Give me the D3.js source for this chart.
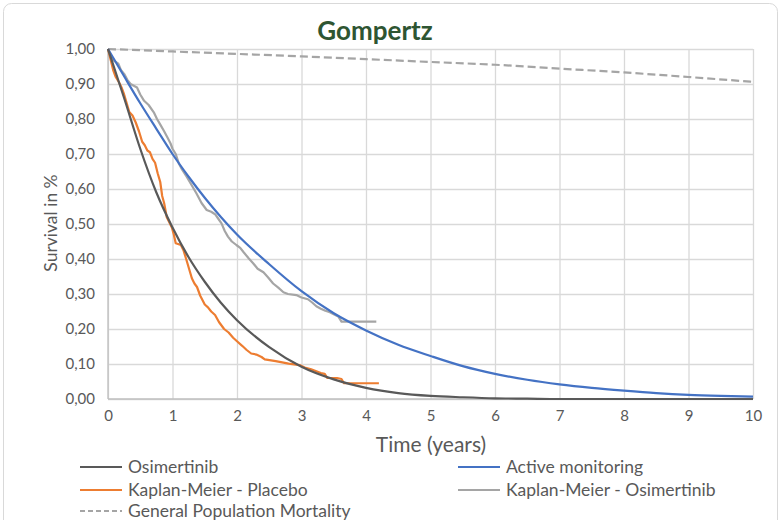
<!DOCTYPE html>
<html>
<head>
<meta charset="utf-8">
<script src="https://cdn.jsdelivr.net/npm/d3@7/dist/d3.min.js"></script>
<style>
  html, body { margin: 0; padding: 0; background: #fff; overflow: hidden; }
  svg { display: block; font-family: Lato, "Open Sans", sans-serif; }
</style>
</head>
<body>
<svg id="chart" width="781" height="520"></svg>
<script>
// Survival data (time in years, survival as a fraction)
const chartTitle = "Gompertz";
const xTickValues = [0, 1, 2, 3, 4, 5, 6, 7, 8, 9, 10];
const yTickValues = [0, 0.1, 0.2, 0.3, 0.4, 0.5, 0.6, 0.7, 0.8, 0.9, 1.0];
const yTickLabels = ["0,00", "0,10", "0,20", "0,30", "0,40", "0,50", "0,60", "0,70", "0,80", "0,90", "1,00"];

// Gompertz model curves
const modelTimes = [0, 0.25, 0.5, 0.75, 1, 1.25, 1.5, 1.75, 2, 2.5, 3, 3.5, 4, 4.5, 5, 5.5, 6, 6.5, 7, 7.5, 8, 8.5, 9, 9.5, 10];
const osimertinib = [1.0, 0.86, 0.715, 0.59, 0.49, 0.405, 0.335, 0.275, 0.225, 0.148, 0.092, 0.056, 0.032, 0.017, 0.009, 0.005, 0.002, 0.001, 0, 0, 0, 0, 0, 0, 0];
const activeMonitoring = [1.0, 0.922, 0.845, 0.772, 0.70, 0.635, 0.575, 0.52, 0.47, 0.385, 0.308, 0.245, 0.196, 0.155, 0.123, 0.094, 0.072, 0.055, 0.042, 0.032, 0.024, 0.017, 0.012, 0.009, 0.007];

// General population mortality
const popTimes = [0, 1, 2, 3, 4, 5, 6, 7, 8, 9, 10];
const populationMortality = [1.0, 0.993, 0.986, 0.979, 0.971, 0.963, 0.955, 0.944, 0.933, 0.92, 0.906];

// Kaplan-Meier - Placebo
const kmPlaceboTimes = [0, 0.04, 0.08, 0.12, 0.17, 0.21, 0.25, 0.29, 0.33, 0.38, 0.43, 0.48, 0.53, 0.57, 0.61, 0.65, 0.69, 0.73, 0.77, 0.81, 0.84, 0.87, 0.91, 0.95, 0.99, 1.02, 1.05, 1.13, 1.17, 1.22, 1.26, 1.30, 1.34, 1.38, 1.43, 1.50, 1.55, 1.60, 1.66, 1.72, 1.80, 1.87, 1.94, 2.0, 2.08, 2.15, 2.22, 2.30, 2.38, 2.43, 2.6, 2.8, 2.97, 3.05, 3.15, 3.22, 3.3, 3.36, 3.4, 3.55, 3.62, 3.66, 4.2];
const kmPlacebo = [1.0, 0.97, 0.94, 0.92, 0.905, 0.89, 0.87, 0.845, 0.82, 0.81, 0.79, 0.765, 0.735, 0.725, 0.71, 0.705, 0.686, 0.675, 0.645, 0.62, 0.58, 0.56, 0.52, 0.505, 0.49, 0.47, 0.445, 0.44, 0.425, 0.395, 0.37, 0.345, 0.33, 0.32, 0.295, 0.27, 0.262, 0.25, 0.24, 0.22, 0.2, 0.19, 0.175, 0.165, 0.152, 0.14, 0.13, 0.127, 0.12, 0.113, 0.108, 0.101, 0.097, 0.09, 0.085, 0.08, 0.074, 0.072, 0.06, 0.06, 0.057, 0.045, 0.045];

// Kaplan-Meier - Osimertinib
const kmOsiTimes = [0, 0.05, 0.09, 0.16, 0.2, 0.25, 0.3, 0.35, 0.4, 0.45, 0.5, 0.56, 0.63, 0.71, 0.76, 0.82, 0.87, 0.92, 0.97, 1.0, 1.05, 1.1, 1.15, 1.22, 1.3, 1.37, 1.45, 1.53, 1.6, 1.66, 1.71, 1.76, 1.81, 1.86, 1.92, 1.99, 2.05, 2.10, 2.18, 2.25, 2.32, 2.41, 2.48, 2.56, 2.64, 2.72, 2.79, 2.92, 3.0, 3.10, 3.17, 3.23, 3.3, 3.37, 3.44, 3.5, 3.57, 3.62, 4.16];
const kmOsimertinib = [1.0, 0.975, 0.967, 0.958, 0.94, 0.929, 0.912, 0.9, 0.895, 0.89, 0.87, 0.852, 0.84, 0.819, 0.8, 0.781, 0.765, 0.748, 0.73, 0.715, 0.7, 0.672, 0.655, 0.635, 0.61, 0.588, 0.56, 0.54, 0.535, 0.528, 0.515, 0.502, 0.48, 0.464, 0.45, 0.44, 0.432, 0.42, 0.402, 0.388, 0.372, 0.362, 0.348, 0.33, 0.318, 0.305, 0.3, 0.297, 0.29, 0.285, 0.275, 0.265, 0.258, 0.252, 0.248, 0.242, 0.236, 0.221, 0.221];

const seriesNames = ["Osimertinib", "Active monitoring", "Kaplan-Meier - Placebo", "Kaplan-Meier - Osimertinib", "General Population Mortality"];
const seriesColors = ["#595959", "#4472C4", "#ED7D31", "#A5A5A5", "#A5A5A5"];

const svg = d3.select("#chart");
const W = 781, H = 520;
const plot = { left: 108, right: 753, top: 49, bottom: 399 };
const FONT = "Lato, 'Open Sans', sans-serif";

// Outer chart frame (its lower edge runs past the bottom of the view)
svg.append("rect")
  .attr("x", 3.5).attr("y", 3.5)
  .attr("width", W - 7).attr("height", H + 20)
  .attr("rx", 8).attr("ry", 8)
  .attr("fill", "#fff").attr("stroke", "#D9D9D9").attr("stroke-width", 1);

const x = d3.scaleLinear().domain([0, 10]).range([plot.left, plot.right]);
const y = d3.scaleLinear().domain([0, 1]).range([plot.bottom, plot.top]);

// Gridlines
svg.append("g")
  .attr("transform", `translate(0,${plot.bottom})`)
  .call(d3.axisBottom(x).tickValues(xTickValues).tickSize(-(plot.bottom - plot.top)).tickFormat(""))
  .call(g => g.select(".domain").remove())
  .call(g => g.selectAll("line").attr("stroke", "#D9D9D9").attr("stroke-width", 1.3));
svg.append("g")
  .attr("transform", `translate(${plot.left},0)`)
  .call(d3.axisLeft(y).tickValues(yTickValues).tickSize(-(plot.right - plot.left)).tickFormat(""))
  .call(g => g.select(".domain").remove())
  .call(g => g.selectAll("line").attr("stroke", "#D9D9D9").attr("stroke-width", 1.3));

// Axis lines
svg.append("line")
  .attr("x1", plot.left).attr("x2", plot.left)
  .attr("y1", plot.top).attr("y2", plot.bottom)
  .attr("stroke", "#BFBFBF").attr("stroke-width", 1.3);
svg.append("line")
  .attr("x1", plot.left).attr("x2", plot.right)
  .attr("y1", plot.bottom).attr("y2", plot.bottom)
  .attr("stroke", "#BFBFBF").attr("stroke-width", 1.3);

// Tick labels
svg.append("g")
  .attr("transform", `translate(${plot.left},0)`)
  .call(d3.axisLeft(y).tickValues(yTickValues).tickSize(0).tickPadding(13)
    .tickFormat((d, i) => yTickLabels[i]))
  .call(g => g.select(".domain").remove())
  .call(g => g.selectAll("text").attr("fill", "#595959").style("font-size", "15px")
    .style("font-family", FONT));
svg.append("g")
  .attr("transform", `translate(0,${plot.bottom})`)
  .call(d3.axisBottom(x).tickValues(xTickValues).tickSize(0).tickPadding(11)
    .tickFormat(d3.format("d")))
  .call(g => g.select(".domain").remove())
  .call(g => g.selectAll("text").attr("fill", "#595959").style("font-size", "15px")
    .style("font-family", FONT));

// Titles
svg.append("text")
  .attr("x", 375).attr("y", 40)
  .attr("text-anchor", "middle")
  .attr("fill", "#2E5532")
  .style("font-size", "26px").style("font-weight", "bold")
  .text(chartTitle);
svg.append("text")
  .attr("x", 431).attr("y", 452)
  .attr("text-anchor", "middle")
  .attr("fill", "#595959")
  .style("font-size", "21px")
  .text("Time (years)");
svg.append("text")
  .attr("transform", `translate(57,${(plot.top + plot.bottom) / 2 - 1}) rotate(-90)`)
  .attr("text-anchor", "middle")
  .attr("fill", "#595959")
  .style("font-size", "17.5px")
  .text("Survival in %");

// Series lines
const smooth = d3.line().x(d => x(d[0])).y(d => y(d[1])).curve(d3.curveMonotoneX);
const straight = d3.line().x(d => x(d[0])).y(d => y(d[1]));
const zip = (ts, vs) => ts.map((t, i) => [t, vs[i]]);

const seriesDefs = [
  { data: zip(popTimes, populationMortality), gen: smooth, color: seriesColors[4], dash: "8,4" },
  { data: zip(kmOsiTimes, kmOsimertinib), gen: straight, color: seriesColors[3], dash: null },
  { data: zip(kmPlaceboTimes, kmPlacebo), gen: straight, color: seriesColors[2], dash: null },
  { data: zip(modelTimes, activeMonitoring), gen: smooth, color: seriesColors[1], dash: null },
  { data: zip(modelTimes, osimertinib), gen: smooth, color: seriesColors[0], dash: null }
];
seriesDefs.forEach(s => {
  svg.append("path")
    .datum(s.data)
    .attr("d", s.gen)
    .attr("fill", "none")
    .attr("stroke", s.color)
    .attr("stroke-width", 2.2)
    .attr("stroke-linejoin", "round")
    .attr("stroke-dasharray", s.dash);
});

// Legend
const legendPos = [[80, 467], [458, 467], [80, 490], [458, 490], [80, 511]];
const legend = svg.append("g");
seriesNames.forEach((name, i) => {
  const [lx, ly] = legendPos[i];
  legend.append("line")
    .attr("x1", lx).attr("x2", lx + 42)
    .attr("y1", ly).attr("y2", ly)
    .attr("stroke", seriesColors[i]).attr("stroke-width", 2.2)
    .attr("stroke-dasharray", i === 4 ? "5,3" : null);
  legend.append("text")
    .attr("x", lx + 48).attr("y", ly)
    .attr("dy", "0.35em")
    .attr("fill", "#595959")
    .style("font-size", "17.5px")
    .text(name);
});
</script>
</body>
</html>
